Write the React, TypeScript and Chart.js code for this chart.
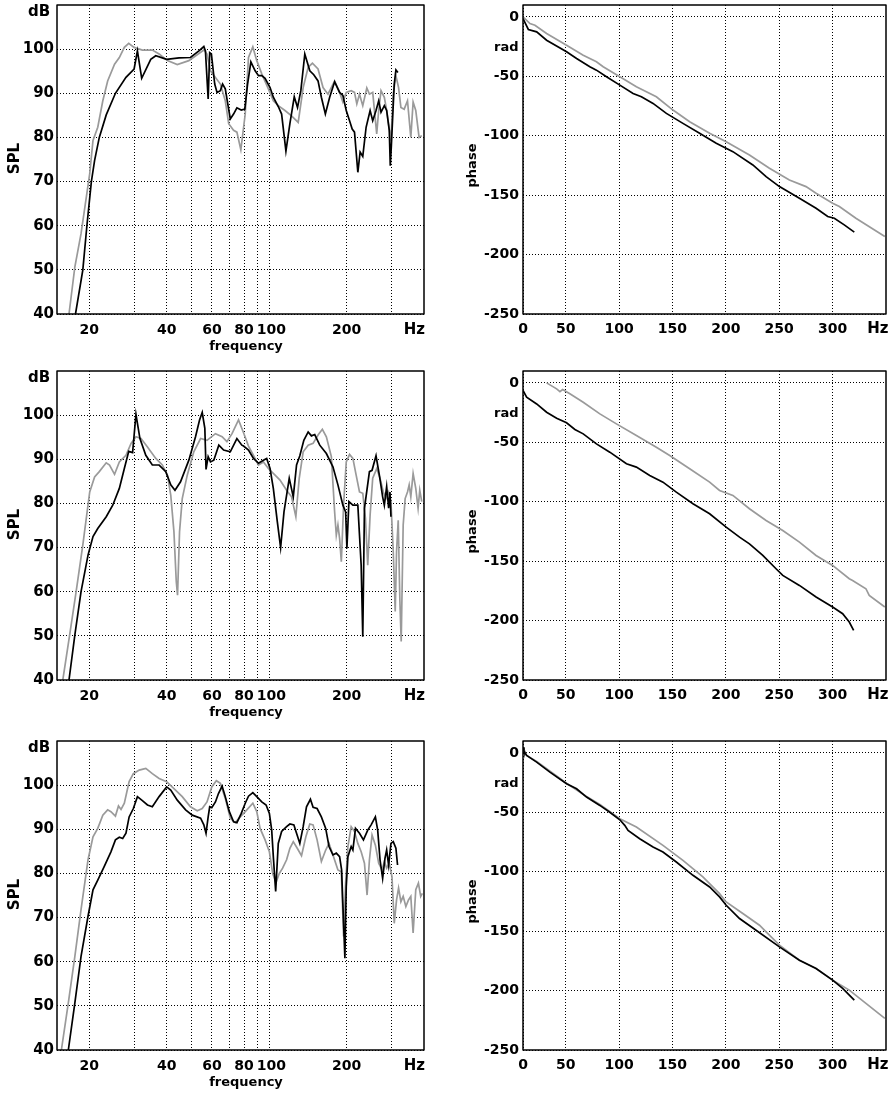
import React, { useEffect, useRef } from 'react';
import { Chart, registerables } from 'chart.js';

Chart.register(...registerables);

const FONT = "'DejaVu Sans', 'Liberation Sans', sans-serif";
const BLACK = '#000000';
const GRAY = '#9a9a9a';

// ---------- SPL (dB) vs frequency (Hz), log axis ----------
const spl1BlackFreq = [17.7,18.9,19.6,20.4,21.0,21.9,23.3,25.3,27.8,29.9,30.8,32.0,34.7,36.3,40.0,44.7,49.5,53.4,55.8,56.6,58.0,58.8,59.7,61.5,62.8,64.7,66.0,67.6,70.7,72.8,75.0,78.0,80.5,82.5,85.0,88.3,91.0,93.7,96.5,100.9,103.9,108.6,111.9,116.3,120.5,125.3,129.0,132.9,137.7,144.0,149.2,155.0,159.7,165.5,172.0,179.8,188.0,193.6,199.5,205.5,210.4,214.8,221.3,225.9,231.3,238.3,247.0,252.8,260.4,266.7,272.3,280.5,286.4,293.2,295.8,298.5,306.5,311.1,316.7];
const spl1BlackDb = [40,50,60,70,74.8,80,85.1,90,93.6,95.5,99.6,93.4,97.7,98.5,97.7,98.0,98.1,99.6,100.6,99.6,88.7,99.2,98.9,92.1,90.2,90.6,92.1,91.0,84.2,85.3,86.7,86.2,86.4,92,97.1,95.1,94.0,94.0,93.4,91.3,89.1,87.0,85.3,76.9,83.1,89.2,86.8,90.6,98.9,95.1,94.2,92.8,89.1,85.3,89.1,92.6,90.2,89.5,86.1,83.8,81.9,81.2,72.1,76.7,75.7,82.3,86.1,83.8,86.1,88.3,85.7,87.2,86.1,81.6,73.6,77.8,92.1,95.3,94.7];
const spl1GrayFreq = [16.7,17.6,18.6,19.5,20.1,20.7,21.6,22.6,23.6,25.1,26.2,27.4,28.5,29.9,32.2,35.2,37.4,40.3,44.0,48.8,53.4,55.8,57.4,59.2,61.9,64.7,67.6,69.7,72.8,75.0,77.7,80.8,83.2,86.5,89.6,93.7,99.4,103.9,108.6,115.3,122.3,129.8,135.7,141.9,147.4,155.0,162.1,169.4,179.8,188.0,193.6,199.5,208.5,214.8,219.3,224.6,231.3,239.8,245.5,252.8,262.0,266.7,272.3,280.5,286.4,293.2,297.6,303.8,311.1,318.6,325.3,335.0,345.1,355.5,362.9,371.6,382.8,392.0];
const spl1GrayDb = [40,50.7,58.2,66.5,71.8,79.3,82.3,88.3,92.8,96.6,98.1,100.4,101.3,100.4,99.8,99.8,98.9,97.4,96.5,97.4,99.0,99.8,98.9,95.1,93.6,92.1,88.3,83.1,81.6,81.2,77.2,85.3,98.1,100.5,97.4,94.4,91.0,88.3,87.2,86.1,84.9,83.4,91.3,95.9,96.8,95.5,91.3,89.8,92.8,90.2,88.0,90.2,90.6,90.2,87.6,89.8,87.2,91.2,89.8,90.2,80.8,86.1,90.6,89.1,86.1,81.9,79.3,89.8,94.0,91.3,86.8,86.4,88.3,80.0,88.0,86.1,80.0,80.4];

const spl2BlackFreq = [16.7,17.6,18.6,19.8,20.7,21.6,23.3,24.7,26.2,27.4,28.5,29.5,30.4,31.5,33.2,35.2,37.4,39.7,41.5,43.1,45.3,48.8,51.8,53.7,55.0,56.3,56.9,58.0,59.2,61.0,63.8,66.6,70.7,75.0,78.4,79.6,83.2,87.0,91.0,95.1,97.9,100.9,103.9,107.7,110.9,114.3,119.8,124.2,127.9,131.7,136.5,141.9,146.1,150.5,157.4,167.0,177.1,185.2,193.6,198.4,200.7,204.3,211.7,221.3,228.0,231.3,234.8,245.5,251.3,260.4,268.3,276.3,280.5,286.4,291.5,295.0,297.6];
const spl2BlackDb = [40,50.2,60,68.3,72.5,74.3,77.0,79.6,83.4,87.9,91.8,91.5,100.2,94.7,90.9,88.7,88.7,87.2,84.2,83.0,84.9,89.8,95.1,98.9,100.6,97.0,87.7,90.6,89.4,89.8,93.2,92.1,91.7,94.7,93.2,93.0,92.1,90.2,89.1,89.8,90.2,87.9,83.4,75.8,70.0,78.1,85.7,81.5,88.7,90.8,94.3,96.2,95.3,95.6,93.2,91.3,88.3,84.2,79.6,78.1,69.8,80.4,79.6,79.6,66.0,49.8,78.9,87.2,87.5,90.8,86.4,81.5,79.6,83.8,78.9,82.6,77.0];
const spl2GrayFreq = [15.8,16.8,17.8,18.9,20.1,21.0,21.9,23.3,24.0,25.1,26.2,27.8,29.1,30.4,31.8,33.7,36.3,38.5,40.3,41.5,42.7,43.6,44.1,44.9,46.0,48.1,51.0,54.2,57.4,61.9,65.7,68.6,71.8,76.1,79.6,83.2,87.0,91.0,95.1,99.4,103.9,110.3,117.0,122.3,127.1,131.0,135.7,141.9,148.3,155.0,161.1,167.0,174.6,179.8,182.5,185.2,188.0,190.9,194.8,199.5,205.5,211.7,218.0,224.6,231.3,236.9,241.8,247.0,252.8,262.0,269.9,278.0,284.7,291.5,297.6,303.8,309.2,312.9,317.6,322.3,326.2,332.0,337.9,345.1,350.3,355.5,362.9,371.6,379.4,385.1,392.0];
const spl2GrayDb = [40,50.2,60,70.6,82.6,86.0,87.2,89.2,88.7,86.6,89.4,90.9,93.6,95.1,94.7,92.8,90.2,88.7,86.4,81.9,73.6,62.3,59.2,73.6,81.1,86.4,91.7,94.7,94.3,95.8,95.1,94.0,95.8,98.9,96.0,93.0,90.9,88.7,89.4,87.9,86.8,85.3,83.0,81.5,77.0,85.7,91.7,93.2,93.6,95.5,96.8,95.1,90.6,78.1,72.8,75.1,72.1,66.8,79.6,89.4,91.1,90.2,86.4,82.6,82.3,76.6,66.0,77.4,85.7,87.9,85.7,82.6,81.1,82.6,80.4,69.1,55.5,69.1,76.2,58.1,48.7,75.1,81.1,82.6,84.2,81.5,86.8,83.4,78.9,83.0,80.4];

const spl3BlackFreq = [16.6,17.6,18.6,19.8,20.7,21.6,22.9,24.3,25.3,26.2,27.0,27.8,28.6,29.7,30.8,32.2,33.7,35.2,37.4,40.0,41.5,44.0,47.4,50.3,54.2,55.8,56.9,58.0,58.8,59.9,61.9,63.6,65.7,67.6,70.1,72.8,75.0,78.0,80.8,83.2,86.5,89.6,93.7,97.4,100.3,102.4,103.9,106.1,108.6,111.9,117.0,120.5,124.9,127.9,131.7,135.7,139.8,144.8,148.3,153.7,159.7,166.0,171.0,177.1,182.5,188.0,191.4,194.8,197.1,199.5,202.5,208.5,211.7,216.7,224.6,232.7,241.8,249.2,258.9,264.3,269.9,276.3,282.1,286.4,291.5,297.6,303.8,311.1,315.7];
const spl3BlackDb = [40,50.7,61.2,70.3,76.3,78.5,81.6,84.9,87.6,88.2,87.9,89.1,92.8,94.7,97.4,96.5,95.5,95.1,97.4,99.6,98.9,96.6,94.4,93.2,92.5,91.0,89.1,92.8,95.1,94.9,96.2,98.1,99.8,97.4,94.0,91.7,91.5,93.6,95.9,97.5,98.3,97.4,96.2,95.5,93.6,89.8,83.8,75.9,86.8,89.5,90.6,91.2,91.0,89.1,86.8,90.6,95.1,96.8,95.0,94.7,92.8,90.2,86.1,84.2,84.6,83.8,80.8,68.7,60.8,77.0,83.8,86.1,85.3,90.2,89.1,87.6,89.8,91.0,92.8,89.8,83.1,78.9,83.4,85.3,81.9,86.8,87.2,85.7,81.9];
const spl3GrayFreq = [15.6,16.6,17.6,18.6,19.8,20.7,21.6,22.6,23.6,24.3,25.3,26.0,26.6,27.4,28.6,29.7,31.3,33.2,35.2,37.4,40.0,42.7,46.0,49.5,52.6,55.0,57.4,59.9,62.4,64.7,67.6,70.7,73.9,77.3,80.8,86.5,89.6,92.3,96.5,100.3,103.3,106.4,109.6,112.9,117.0,120.5,124.2,128.7,133.7,139.0,144.0,148.3,153.7,159.7,166.0,171.0,177.1,185.2,190.9,194.8,198.4,202.5,208.5,214.8,221.3,228.0,234.8,240.4,245.5,251.3,258.9,266.7,274.7,280.5,286.4,293.2,300.3,306.5,312.9,318.6,325.3,332.0,340.1,348.2,355.5,362.9,371.6,380.5,388.4,394.2];
const spl3GrayDb = [40,50.7,61.2,71.8,83.1,88.3,90.2,93.2,94.4,94.0,93.0,95.3,94.5,95.9,100.8,102.6,103.4,103.8,102.6,101.5,100.8,99.2,97.4,95.1,94.2,94.7,96.2,99.6,101.0,100.4,97.0,92.5,91.5,92.8,94.0,95.9,94.0,90.2,87.6,84.9,80.0,77.9,80.0,81.2,83.1,85.7,87.2,85.7,84.0,88.3,91.2,91.0,87.6,82.7,85.3,86.8,84.2,80.8,80.4,65.7,77.8,86.1,90.6,89.5,86.8,84.9,82.3,75.1,83.1,88.7,86.4,82.3,80.8,82.7,81.2,82.3,79.3,68.7,74.0,76.7,73.6,74.8,72.5,74.0,74.8,66.5,76.3,77.8,74.8,75.5];

// ---------- phase vs frequency, linear axis ----------
const ph1BlackFreq = [10,15,22.8,32.1,50.8,60.2,72.6,78.8,88.2,100.7,113.1,120.9,131.8,144.3,159.8,175.4,191,206.6,225.3,237.7,250.2,268.9,284.5,295.4,301.6,310.9,320.3];
const ph1BlackVal = [-1.4,-10.6,-12.6,-19.6,-29.4,-35,-42,-44.8,-50.4,-57.4,-64.4,-67.2,-72.8,-81.2,-89.6,-98,-106.4,-113.4,-124.6,-134.4,-142.8,-152.6,-161,-168,-169.4,-175,-181.1];
const ph1GrayFreq = [10,16.5,21.2,32.1,50.8,66.4,78.8,85.1,100.7,116.2,134.9,150.5,166.1,184.8,200.3,222.1,240.8,259.5,275.1,284.5,300,306.3,321.8,348.9];
const ph1GrayVal = [0,-5.6,-7,-14,-23.8,-32.2,-37.8,-42,-50.4,-58.8,-67.2,-78.4,-88.2,-98,-105,-116.2,-127.4,-137.2,-142.8,-148.4,-156.8,-159.6,-169.4,-184.8];

const ph2BlackFreq = [10,13.4,22.8,32.1,41.5,50.8,58.6,66.4,78.8,91.3,106.9,116.2,128.7,141.1,153.6,169.2,184.8,200.3,212.8,222.1,234.6,247,253.3,268.9,284.5,300,309.4,315.6,319.7];
const ph2BlackVal = [-6.4,-12.1,-17.7,-24.7,-29.7,-33.6,-39.2,-42.9,-51.3,-58.3,-68.1,-70.9,-77.9,-83.5,-91.9,-101.7,-110.1,-121.4,-129.8,-135.4,-145.2,-156.4,-162,-170.4,-180.2,-188.6,-194.2,-201.2,-208.2];
const ph2GrayFreq = [32.1,41.5,44.6,47.1,53.9,66.4,82,97.5,116.2,134.9,147.4,166.1,184.8,194.1,206.6,222.1,237.7,253.3,268.9,284.5,300,315.6,318.7,331.2,334.3,348.9];
const ph2GrayVal = [0,-5,-7.3,-5.6,-9.2,-16.3,-26.1,-34.5,-44.3,-54.1,-61.1,-72.3,-83.5,-90.5,-94.7,-105.9,-115.8,-124.2,-134,-145.2,-153.6,-164.8,-166.2,-173.2,-178.8,-188.6];

const ph3BlackFreq = [10,10.9,13.4,22.8,35.2,50.8,60.2,69.5,82,91.3,100.7,105.3,108.4,119.3,131.8,141.1,153.6,169.2,184.8,194.1,200.3,212.8,228.3,250.2,268.9,284.5,300,309.4,320.3];
const ph3BlackVal = [4.8,1.4,-2.2,-7.8,-16.2,-26,-30.2,-37.2,-44.2,-50,-56.3,-61,-65.2,-72.2,-79.2,-83.4,-91.8,-103,-112.8,-121.2,-128.2,-139.4,-149.2,-163.2,-174.4,-181.4,-191.2,-198.2,-208];
const ph3GrayFreq = [10,13.4,22.8,50.8,69.5,82,100.7,116.2,141.1,159.8,178.5,194.1,200.3,215.9,231.5,237.7,250.2,268.9,284.5,300,315.6,348.9];
const ph3GrayVal = [4.8,-2.2,-7.3,-25.5,-36.7,-43.4,-55.4,-62.4,-77.8,-90.4,-104.4,-118.4,-125.4,-135.2,-145,-150.6,-161.8,-174.4,-181.4,-191.2,-199.6,-223.4];

// ---------- ticks ----------
const splTicksX = [20, 30, 40, 50, 60, 70, 80, 90, 100, 200, 300];
const splLabelsX = [20, 40, 60, 80, 100, 200];
const splTicksY = [40, 50, 60, 70, 80, 90, 100];
const phaseTicksX = [10, 50, 100, 150, 200, 250, 300];
const phaseTicksY = [-250, -200, -150, -100, -50, 0];

type Pt = { x: number; y: number };
function zip(xs: number[], ys: number[]): Pt[] {
  const n = Math.min(xs.length, ys.length);
  const out: Pt[] = [];
  for (let i = 0; i < n; i++) out.push({ x: xs[i], y: ys[i] });
  return out;
}

const PLOT_H = 309;
const PAD_TOP = 5;

type PanelProps = {
  kind: 'spl' | 'phase';
  left: number;
  top: number;
  width: number;
  height: number;
  black: Pt[];
  gray: Pt[];
};

function Panel({ kind, left, top, width, height, black, gray }: PanelProps) {
  const ref = useRef<HTMLCanvasElement>(null);
  useEffect(() => {
    const isSpl = kind === 'spl';
    const axisW = isSpl ? 57 : 73;
    const padRight = isSpl ? 16 : 8;
    const xAxisH = height - PAD_TOP - PLOT_H;
    const xTickFont = { family: FONT, weight: 'bold' as const, size: 14 };
    const yTickFont = { family: FONT, weight: 'bold' as const, size: isSpl ? 15 : 14 };
    const gridOpts = { color: '#000', lineWidth: 1, drawTicks: false };
    const borderOpts = { display: false, dash: [1, 2] };
    const zeroPad = (s: any) => {
      s.paddingTop = 0;
      s.paddingBottom = 0;
      s.paddingLeft = 0;
      s.paddingRight = 0;
    };

    const decor = {
      id: 'decor',
      afterDraw(chart: any) {
        const ca = chart.chartArea;
        const ctx = chart.ctx as CanvasRenderingContext2D;
        ctx.save();
        ctx.strokeStyle = '#000';
        ctx.lineWidth = 1.5;
        ctx.lineJoin = 'round';
        ctx.strokeRect(ca.left, ca.top, ca.right - ca.left, ca.bottom - ca.top);
        ctx.fillStyle = '#000';
        ctx.textBaseline = 'middle';
        const midY = (ca.top + ca.bottom) / 2;
        if (isSpl) {
          ctx.font = `bold 15px ${FONT}`;
          ctx.textAlign = 'center';
          ctx.fillText('dB', ca.left - 18, ca.top + 7.5);
          ctx.textAlign = 'right';
          ctx.fillText('Hz', ca.right + 1, ca.bottom + 16);
          ctx.font = `bold 13px ${FONT}`;
          ctx.textAlign = 'center';
          ctx.fillText('frequency', ca.left + 189, ca.bottom + 33);
          ctx.save();
          ctx.translate(ca.left - 42, midY - 1);
          ctx.rotate(-Math.PI / 2);
          ctx.font = `bold 15px ${FONT}`;
          ctx.textAlign = 'center';
          ctx.fillText('SPL', 0, 0);
          ctx.restore();
        } else {
          ctx.font = `bold 13px ${FONT}`;
          ctx.textAlign = 'right';
          ctx.fillText('rad', ca.left - 4.5, chart.scales.y.getPixelForValue(-25) + 1);
          ctx.font = `bold 15px ${FONT}`;
          ctx.fillText('Hz', ca.right + 2.5, ca.bottom + 15);
          ctx.save();
          ctx.translate(ca.left - 50, midY + 6);
          ctx.rotate(-Math.PI / 2);
          ctx.font = `bold 13px ${FONT}`;
          ctx.textAlign = 'center';
          ctx.fillText('phase', 0, 0);
          ctx.restore();
        }
        ctx.restore();
      },
    };

    const xScale = isSpl
      ? {
          type: 'logarithmic',
          min: 15,
          max: 400,
          afterBuildTicks: (s: any) => {
            s.ticks = splTicksX.map((v) => ({ value: v }));
          },
          afterFit: (s: any) => {
            s.height = xAxisH;
            zeroPad(s);
          },
          ticks: {
            autoSkip: false,
            maxRotation: 0,
            minRotation: 0,
            padding: 7.5,
            color: '#000',
            font: xTickFont,
            callback: (v: any) => {
              const n = Number(v);
              if (!splLabelsX.includes(n)) return '';
              return n === 100 ? ' 100' : String(n);
            },
          },
          grid: gridOpts,
          border: borderOpts,
        }
      : {
          type: 'linear',
          min: 10,
          max: 350,
          afterBuildTicks: (s: any) => {
            s.ticks = phaseTicksX.map((v) => ({ value: v }));
          },
          afterFit: (s: any) => {
            s.height = xAxisH;
            zeroPad(s);
          },
          ticks: {
            autoSkip: false,
            maxRotation: 0,
            minRotation: 0,
            padding: 6.5,
            color: '#000',
            font: xTickFont,
            callback: (v: any) => (Number(v) === 10 ? '0' : String(v)),
          },
          grid: gridOpts,
          border: borderOpts,
        };

    const yScale = {
      type: 'linear',
      min: isSpl ? 40 : -250,
      max: isSpl ? 110 : 10,
      afterBuildTicks: (s: any) => {
        s.ticks = (isSpl ? splTicksY : phaseTicksY).map((v) => ({ value: v }));
      },
      afterFit: (s: any) => {
        s.width = axisW;
        zeroPad(s);
      },
      ticks: {
        padding: isSpl ? 3 : 4,
        color: '#000',
        font: yTickFont,
        callback: (v: any) => String(v),
      },
      grid: gridOpts,
      border: borderOpts,
    };

    const chart = new Chart(ref.current as HTMLCanvasElement, {
      type: 'line',
      data: {
        datasets: [
          { data: black, borderColor: BLACK, borderWidth: 1.7, pointRadius: 0, tension: 0, fill: false },
          { data: gray, borderColor: GRAY, borderWidth: 1.7, pointRadius: 0, tension: 0, fill: false },
        ],
      },
      options: {
        animation: false,
        responsive: false,
        maintainAspectRatio: false,
        devicePixelRatio: 1,
        layout: { padding: { top: PAD_TOP, right: padRight, left: 0, bottom: 0 } },
        plugins: { legend: { display: false }, tooltip: { enabled: false } },
        scales: { x: xScale as any, y: yScale as any },
      },
      plugins: [decor],
    });
    return () => chart.destroy();
  }, []);
  return (
    <canvas
      ref={ref}
      width={width}
      height={height}
      style={{ position: 'absolute', left, top, width, height }}
    />
  );
}

export default function App() {
  const H = 358;
  return (
    <div style={{ position: 'absolute', left: 0, top: 0, width: 894, height: 1094, background: '#fff', overflow: 'hidden' }}>
      <Panel kind="spl" left={0} top={0} width={440} height={H} black={zip(spl1BlackFreq, spl1BlackDb)} gray={zip(spl1GrayFreq, spl1GrayDb)} />
      <Panel kind="phase" left={450} top={0} width={444} height={H} black={zip(ph1BlackFreq, ph1BlackVal)} gray={zip(ph1GrayFreq, ph1GrayVal)} />
      <Panel kind="spl" left={0} top={366} width={440} height={H} black={zip(spl2BlackFreq, spl2BlackDb)} gray={zip(spl2GrayFreq, spl2GrayDb)} />
      <Panel kind="phase" left={450} top={366} width={444} height={H} black={zip(ph2BlackFreq, ph2BlackVal)} gray={zip(ph2GrayFreq, ph2GrayVal)} />
      <Panel kind="spl" left={0} top={736} width={440} height={H} black={zip(spl3BlackFreq, spl3BlackDb)} gray={zip(spl3GrayFreq, spl3GrayDb)} />
      <Panel kind="phase" left={450} top={736} width={444} height={H} black={zip(ph3BlackFreq, ph3BlackVal)} gray={zip(ph3GrayFreq, ph3GrayVal)} />
    </div>
  );
}
